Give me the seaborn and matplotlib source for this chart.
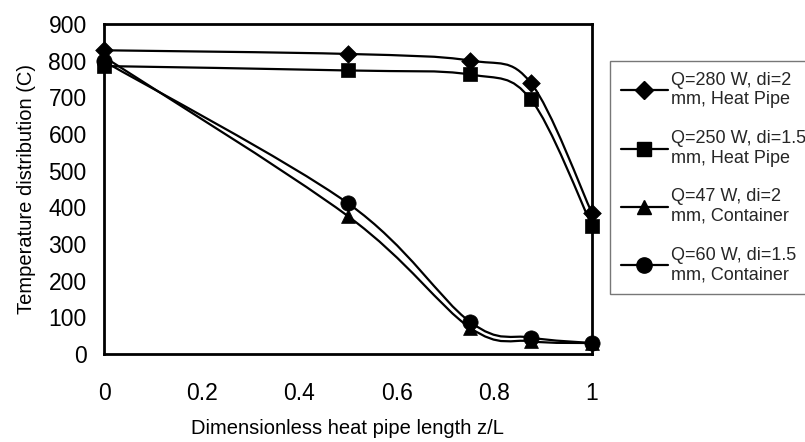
import matplotlib
matplotlib.use("Agg")
import matplotlib.pyplot as plt
import seaborn as sns
import numpy as np
import pandas as pd
from matplotlib.path import Path
from matplotlib.patches import PathPatch
from matplotlib.lines import Line2D

# data
z_over_l = [0.0, 0.5, 0.75, 0.875, 1.0]
hp_280w_2mm = [828, 818, 800, 739, 385]
hp_250w_15mm = [785, 773, 762, 694, 350]
cont_47w_2mm = [810, 376, 72, 35, 30]
cont_60w_15mm = [798, 411, 88, 45, 30]

series_labels = [
    "Q=280 W, di=2\nmm, Heat Pipe",
    "Q=250 W, di=1.5\nmm, Heat Pipe",
    "Q=47 W, di=2\nmm, Container",
    "Q=60 W, di=1.5\nmm, Container",
]
series_values = [hp_280w_2mm, hp_250w_15mm, cont_47w_2mm, cont_60w_15mm]
series_markers = ["D", "s", "^", "o"]
marker_sizes = [9, 10, 10, 11]

x_ticks = [0, 0.2, 0.4, 0.6, 0.8, 1]
x_tick_labels = ["0", "0.2", "0.4", "0.6", "0.8", "1"]
y_ticks = list(range(0, 1000, 100))

sns.set_theme(style="white")
plt.rcParams["font.family"] = ["Liberation Sans", "DejaVu Sans"]


def smooth_path(xs, ys):
    """Excel-like smoothed line: Catmull-Rom segments as cubic Beziers."""
    pts = np.column_stack([xs, ys]).astype(float)
    n = len(pts)
    verts = [pts[0]]
    codes = [Path.MOVETO]
    for i in range(n - 1):
        p0 = pts[max(i - 1, 0)]
        p1 = pts[i]
        p2 = pts[i + 1]
        p3 = pts[min(i + 2, n - 1)]
        c1 = p1 + (p2 - p0) / 6.0
        c2 = p2 - (p3 - p1) / 6.0
        verts += [c1, c2, p2]
        codes += [Path.CURVE4] * 3
    return Path(verts, codes)


rows = []
for lab, vals in zip(series_labels, series_values):
    for x, v in zip(z_over_l, vals):
        rows.append({"z": x, "T": v, "series": lab})
df = pd.DataFrame(rows)

fig = plt.figure(figsize=(8.05, 4.42), dpi=100)
ax = fig.add_axes([0.1292, 0.199, 0.606, 0.747])

for lab, vals in zip(series_labels, series_values):
    patch = PathPatch(smooth_path(z_over_l, vals), facecolor="none",
                      edgecolor="black", lw=1.6, clip_on=False, zorder=2)
    ax.add_patch(patch)

for lab, mk, ms in zip(series_labels, series_markers, marker_sizes):
    sub = df[df["series"] == lab]
    sns.scatterplot(data=sub, x="z", y="T", marker=mk, s=ms ** 2,
                    color="black", edgecolor="black", linewidth=0.5,
                    ax=ax, clip_on=False, zorder=3, legend=False)

ax.set_xlim(0, 1)
ax.set_ylim(0, 900)
ax.set_xticks(x_ticks)
ax.set_xticklabels(x_tick_labels)
ax.set_yticks(y_ticks)
ax.tick_params(axis="both", direction="out", length=6, width=1.2,
               color="black", labelsize=16.5, labelcolor="black")
ax.tick_params(axis="x", pad=14)
ax.tick_params(axis="y", pad=6.5)
ax.set_xlabel("Dimensionless heat pipe length z/L", fontsize=14.5,
              color="black", labelpad=10)
ax.set_ylabel("Temperature distribution (C)", fontsize=14.5,
              color="black", labelpad=9)
for sp in ax.spines.values():
    sp.set_visible(True)
    sp.set_color("black")
    sp.set_linewidth(2)

handles = [Line2D([0], [0], color="black", lw=1.6, marker=mk,
                  markersize=ms, markerfacecolor="black",
                  markeredgecolor="black")
           for mk, ms in zip(series_markers, marker_sizes)]
leg = fig.legend(handles, series_labels, loc="upper left",
                 bbox_to_anchor=(610 / 805, 1 - 61 / 442),
                 frameon=True, fancybox=False, fontsize=13,
                 handlelength=2.6, handletextpad=0.2, labelspacing=1.2,
                 borderpad=0.6, borderaxespad=0)
leg.get_frame().set_edgecolor("#555555")
leg.get_frame().set_linewidth(1.0)

fig.savefig("out.png", dpi=100)
